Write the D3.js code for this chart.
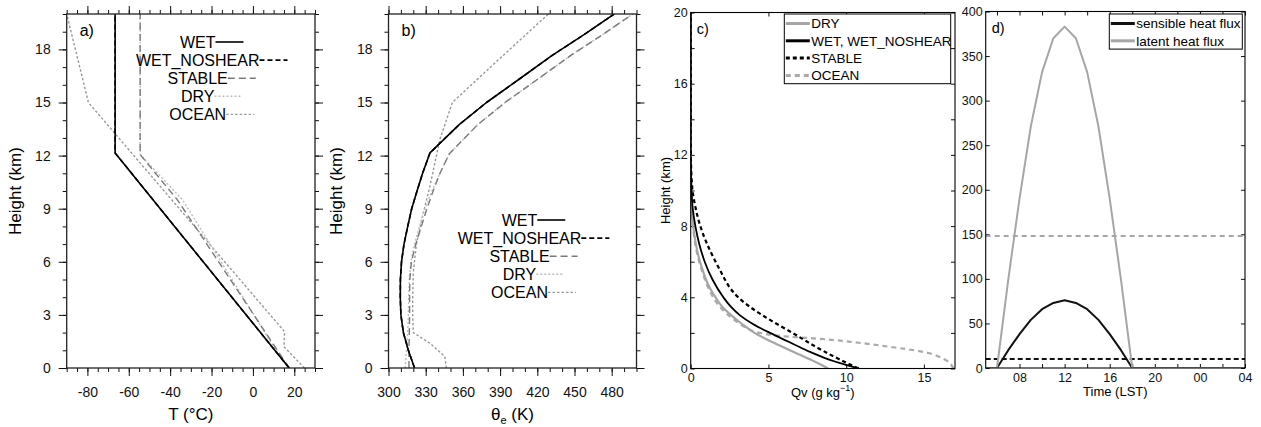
<!DOCTYPE html>
<html>
<head>
<meta charset="utf-8">
<script src="https://cdn.jsdelivr.net/npm/d3@7"></script>
<style>
	body { margin: 0; background: #fff; }
	svg { font-family: "Liberation Sans", Arial, Helvetica, sans-serif; }
</style>
</head>
<body>
<svg id="chart" width="1261" height="427"></svg>
<script>
// ---- values ----

// a) temperature profiles: [T (°C), height (km)]
var tempWet = [[17.5, 0], [-66.6, 12.15], [-66.6, 20]];
var tempWetNoshear = [[17.5, 0], [-66.6, 12.15], [-66.6, 20]];
var tempStable = [[17.5, 0], [-36.5, 9.5], [-54.5, 12.06], [-54.5, 20]];
var tempDry = [[17.5, 0], [9, 1.4], [-34, 9.5], [-54.5, 12.06], [-54.5, 20]];
var tempOcean = [[24.9, 0], [15, 1.2], [15.3, 2.05], [-79.5, 15], [-90, 20]];

// b) equivalent potential temperature: [theta_e (K), height (km)]
var thetaWet = [[321, 0], [316, 1], [312, 2], [310, 3], [309.5, 4], [309.6, 5], [310.5, 6], [312.5, 7], [315.5, 8], [318.7, 9], [323, 10], [327.5, 11], [333.4, 12.15], [357, 13.75], [379, 15], [405, 16.3], [432, 17.66], [458, 18.85], [482, 20]];
var thetaWetNoshear = [[321, 0], [316, 1], [312, 2], [310, 3], [309.5, 4], [309.6, 5], [310.5, 6], [312.5, 7], [315.5, 8], [318.7, 9], [323, 10], [327.5, 11], [333.4, 12.15], [357, 13.75], [379, 15], [405, 16.3], [432, 17.66], [458, 18.85], [482, 20]];
var thetaStable = [[316.5, 0], [316.5, 1], [316.8, 2], [317, 3], [317, 4], [317.2, 5], [318.5, 6], [322, 7], [326.5, 8], [331, 9], [336, 10], [341.5, 11], [349, 12.1], [372, 13.75], [394, 15], [420, 16.3], [447, 17.66], [473, 18.85], [497, 20]];
var thetaDry = [[313.4, 0], [314.5, 1], [315.5, 2], [316, 3], [316.3, 4], [316.8, 5], [318, 6], [321, 7], [325, 8], [329.5, 9], [335, 10], [341.5, 11], [349, 12.1], [372, 13.75], [394, 15], [420, 16.3], [447, 17.66], [473, 18.85], [497, 20]];
var thetaOcean = [[346.7, 0], [345.4, 0.65], [333.4, 1.4], [320, 2], [319.5, 3], [319.5, 4], [320, 5.4], [322.5, 7], [328, 8.75], [333.4, 10.26], [341.4, 12.9], [351.5, 15], [390, 17.5], [429, 20]];

// c) water vapour mixing ratio: [Qv (g/kg), height (km)]
var qvDry = [[8.85, 0], [7.7, 0.5], [6.45, 1], [5.2, 1.5], [4.1, 2], [3.3, 2.5], [2.6, 3], [2.0, 3.5], [1.6, 4], [1.25, 4.5], [0.98, 5], [0.78, 5.5], [0.6, 6], [0.33, 7], [0.16, 8], [0.07, 9], [0.03, 10], [0.01, 11], [0, 12], [0, 20]];
var qvWet = [[10.8, 0], [8.9, 0.5], [7.5, 1], [6.3, 1.5], [5.1, 2], [4.0, 2.5], [3.15, 3], [2.55, 3.5], [2.1, 4], [1.4, 5], [0.9, 6], [0.55, 7], [0.3, 8], [0.13, 9], [0.05, 10], [0.02, 11], [0, 12], [0, 20]];
var qvStable = [[10.8, 0], [9.6, 0.5], [8.5, 1], [7.5, 1.5], [6.55, 2], [5.55, 2.5], [4.6, 3], [3.75, 3.5], [3.05, 4], [2.55, 4.5], [2.2, 5], [1.9, 5.5], [1.6, 6], [1.05, 7], [0.62, 8], [0.32, 9], [0.12, 10], [0.04, 11], [0.01, 12], [0, 13], [0, 20]];
var qvOcean = [[16.9, 0], [16.37, 0.49], [14.86, 0.95], [12.7, 1.23], [10.57, 1.47], [8.42, 1.66], [6.27, 1.79], [4.55, 1.98], [3.55, 2.3], [2.85, 2.7], [1.85, 3.5], [1.15, 4.5], [0.72, 5.5], [0.33, 6.8], [0.14, 8.1], [0.05, 9.5], [0, 12], [0, 20]];

// d) surface fluxes (W m-2) against local hour (5 .. 28 = 04 next day)
var fluxHours = [5, 6, 7, 8, 9, 10, 11, 12, 13, 14, 15, 16, 17, 18, 19, 20, 21, 22, 23, 24, 25, 26, 27, 28];
var sensibleFlux = [0, 0, 20, 38, 54, 66, 73, 76, 73, 66, 54, 38, 20, 0, 0, 0, 0, 0, 0, 0, 0, 0, 0, 0];
var latentFlux = [0, 0, 99, 190, 271, 332, 370, 383, 370, 332, 271, 190, 99, 0, 0, 0, 0, 0, 0, 0, 0, 0, 0, 0];
var oceanSensibleFlux = 10;
var oceanLatentFlux = 148;

// ticks and labels
var heightMajor = [0, 3, 6, 9, 12, 15, 18];
var heightMinor = d3.range(0, 21, 1);
var tempMajor = [-80, -60, -40, -20, 0, 20];
var tempMinor = d3.range(-90, 31, 5);
var thetaMajor = [300, 330, 360, 390, 420, 450, 480];
var thetaMinor = d3.range(300, 501, 10);
var qvTicks = [0, 5, 10, 15];
var qvHeightTicks = d3.range(0, 21, 2);
var fluxTicks = [0, 50, 100, 150, 200, 250, 300, 350, 400];
var hourTicks = d3.range(6, 29, 2);
var hourLabelTicks = [8, 12, 16, 20, 24, 28];
var hourLabels = ["08", "12", "16", "20", "00", "04"];

var legendCasesNcl = ["WET", "WET_NOSHEAR", "STABLE", "DRY", "OCEAN"];
var legendCasesQv = ["DRY", "WET, WET_NOSHEAR", "STABLE", "OCEAN"];
var legendFlux = ["sensible heat flux", "latent heat flux"];

(function () {
	"use strict";

	var svg = d3.select("#chart");

	var caseStyle = {
		"WET": { stroke: "#000", width: 1.6, dash: null },
		"WET_NOSHEAR": { stroke: "#000", width: 1.6, dash: "5,3" },
		"STABLE": { stroke: "#7a7a7a", width: 1.4, dash: "7,4" },
		"DRY": { stroke: "#bdbdbd", width: 1.4, dash: "2,2" },
		"OCEAN": { stroke: "#999", width: 1.4, dash: "2.5,2" }
	};

	var qvStyle = {
		"DRY": { stroke: "#a6a6a6", width: 2.2, dash: null },
		"WET, WET_NOSHEAR": { stroke: "#000", width: 1.8, dash: null },
		"STABLE": { stroke: "#000", width: 2.2, dash: "4,3" },
		"OCEAN": { stroke: "#aaa", width: 2.2, dash: "5,4" }
	};

	var fluxStyle = {
		"sensible heat flux": { stroke: "#111", width: 2, dash: null },
		"latent heat flux": { stroke: "#a6a6a6", width: 2, dash: null }
	};

	function addAxis(g, axis, tx, ty, fontSize) {
		var a = g.append("g")
			.attr("transform", "translate(" + tx + "," + ty + ")")
			.call(axis);
		a.attr("font-family", null).attr("font-size", fontSize || 12);
		a.select(".domain").remove();
		a.selectAll("line").attr("stroke", "#111").attr("stroke-width", 1);
		a.selectAll("text").attr("fill", "#111");
		return a;
	}

	function applyStyle(sel, st) {
		sel.attr("fill", "none")
			.attr("stroke", st.stroke)
			.attr("stroke-width", st.width)
			.attr("stroke-dasharray", st.dash)
			.attr("stroke-linejoin", "round");
	}

	function clipFor(g, id, b) {
		g.append("clipPath").attr("id", id).append("rect")
			.attr("x", b.left).attr("y", b.top)
			.attr("width", b.right - b.left).attr("height", b.bottom - b.top);
		return "url(#" + id + ")";
	}

	function profileLine(x, y, curve) {
		return d3.line()
			.curve(curve || d3.curveLinear)
			.x(function (d) { return x(d[0]); })
			.y(function (d) { return y(d[1]); });
	}

	// NCL style panels (a, b): outward ticks on every side
	function nclPanel(o) {
		var b = o.box;
		var x = d3.scaleLinear().domain(o.xDomain).range([b.left, b.right]);
		var y = d3.scaleLinear().domain([0, 20]).range([b.bottom, b.top]);
		var g = svg.append("g").classed("panel-" + o.tag, true);
		var clip = clipFor(g, "clip-" + o.tag, b);

		var label = function (d) { return String(d); };

		addAxis(g, d3.axisBottom(x).tickValues(o.xMinor).tickSize(4).tickFormat(""), 0, b.bottom);
		addAxis(g, d3.axisTop(x).tickValues(o.xMinor).tickSize(4).tickFormat(""), 0, b.top);
		addAxis(g, d3.axisLeft(y).tickValues(heightMinor).tickSize(4).tickFormat(""), b.left, 0);
		addAxis(g, d3.axisRight(y).tickValues(heightMinor).tickSize(4).tickFormat(""), b.right, 0);

		addAxis(g, d3.axisBottom(x).tickValues(o.xMajor).tickSize(8).tickPadding(11).tickFormat(label), 0, b.bottom, 14);
		addAxis(g, d3.axisTop(x).tickValues(o.xMajor).tickSize(8).tickFormat(""), 0, b.top);
		addAxis(g, d3.axisLeft(y).tickValues(heightMajor).tickSize(8).tickPadding(8).tickFormat(label), b.left, 0, 14);
		addAxis(g, d3.axisRight(y).tickValues(heightMajor).tickSize(8).tickFormat(""), b.right, 0);

		var line = profileLine(x, y);
		g.append("g").attr("clip-path", clip)
			.selectAll("path")
			.data(o.series)
			.enter()
			.append("path")
			.attr("d", function (s) { return line(s.values); })
			.each(function (s) { applyStyle(d3.select(this), caseStyle[s.name]); });

		g.append("rect")
			.attr("x", b.left).attr("y", b.top)
			.attr("width", b.right - b.left).attr("height", b.bottom - b.top)
			.attr("fill", "none").attr("stroke", "#222").attr("stroke-width", 1.3);

		g.append("text")
			.attr("x", b.left + 13).attr("y", b.top + 22)
			.attr("font-size", 16)
			.text(o.tag + ")");

		g.append("text")
			.attr("transform", "translate(" + (b.left - 52) + "," + ((b.top + b.bottom) / 2) + ") rotate(-90)")
			.attr("text-anchor", "middle")
			.attr("dy", "0.35em")
			.attr("font-size", 17)
			.text("Height (km)");

		o.xTitle(g.append("text")
			.attr("x", (b.left + b.right) / 2)
			.attr("y", 420)
			.attr("text-anchor", "middle")
			.attr("font-size", 17));

		// legend: centred names, each followed by a short line sample
		var rows = g.selectAll(".legend-row")
			.data(legendCasesNcl)
			.enter()
			.append("g")
			.classed("legend-row", true)
			.attr("transform", function (d, i) {
				return "translate(" + (b.left + 131) + "," + (o.legendTop + i * 18.1) + ")";
			});

		rows.append("text")
			.attr("text-anchor", "middle")
			.attr("dy", "0.36em")
			.attr("font-size", 16)
			.text(function (d) { return d; });

		rows.each(function (d) {
			var row = d3.select(this);
			var w = row.select("text").node().getComputedTextLength();
			row.append("line")
				.attr("x1", w / 2).attr("x2", w / 2 + 28)
				.attr("y1", 0).attr("y2", 0)
				.call(applyStyle, caseStyle[d]);
		});
	}

	// MATLAB style panels (c, d): inward ticks on every side
	function matlabPanel(o) {
		var b = o.box;
		var g = svg.append("g").classed("panel-" + o.tag, true);
		var clip = clipFor(g, "clip-" + o.tag, b);
		var x = o.x, y = o.y;

		addAxis(g, d3.axisBottom(x).tickValues(o.xTicks).tickSize(-4).tickPadding(5).tickFormat(o.xFormat), 0, b.bottom, 12.5);
		addAxis(g, d3.axisTop(x).tickValues(o.xTicks).tickSize(-4).tickFormat(""), 0, b.top);
		addAxis(g, d3.axisLeft(y).tickValues(o.yTicks).tickSize(-4).tickPadding(3).tickFormat(o.yFormat), b.left, 0, 12.5);
		addAxis(g, d3.axisRight(y).tickValues(o.yTicks).tickSize(-4).tickFormat(""), b.right, 0);

		g.append("g").attr("clip-path", clip)
			.selectAll("path")
			.data(o.series)
			.enter()
			.append("path")
			.attr("d", function (s) { return s.path; })
			.each(function (s) { applyStyle(d3.select(this), s.style); });

		g.append("rect")
			.attr("x", b.left).attr("y", b.top)
			.attr("width", b.right - b.left).attr("height", b.bottom - b.top)
			.attr("fill", "none").attr("stroke", "#000").attr("stroke-width", 1.1);

		g.append("text")
			.attr("x", b.left + 6).attr("y", b.top + 21)
			.attr("font-size", 14.5)
			.text(o.tag + ")");

		var lg = o.legend;
		g.append("rect")
			.attr("x", lg.left).attr("y", lg.top)
			.attr("width", lg.width).attr("height", lg.names.length * 17.3 + 0.5)
			.attr("fill", "#fff").attr("stroke", "#000").attr("stroke-width", 1);

		var rows = g.selectAll(".legend-row")
			.data(lg.names)
			.enter()
			.append("g")
			.classed("legend-row", true)
			.attr("transform", function (d, i) {
				return "translate(" + (lg.left + 1.5) + "," + (lg.top + 9.5 + i * 17.3) + ")";
			});

		rows.append("line")
			.attr("x1", 0).attr("x2", 24)
			.attr("y1", 0).attr("y2", 0)
			.each(function (d) {
				applyStyle(d3.select(this), lg.styles[d]);
				d3.select(this).attr("stroke-width", 3);
			});

		rows.append("text")
			.attr("x", 25.5)
			.attr("dy", "0.36em")
			.attr("font-size", 13.5)
			.text(function (d) { return d; });

		return g;
	}

	// ---- panel a ----
	nclPanel({
		tag: "a",
		box: { left: 66.7, right: 315, top: 14, bottom: 368 },
		xDomain: [-90, 30],
		xMajor: tempMajor,
		xMinor: tempMinor,
		legendTop: 42,
		series: [
			{ name: "OCEAN", values: tempOcean },
			{ name: "DRY", values: tempDry },
			{ name: "STABLE", values: tempStable },
			{ name: "WET", values: tempWet },
			{ name: "WET_NOSHEAR", values: tempWetNoshear }
		],
		xTitle: function (t) { t.text("T (\u00B0C)"); }
	});

	// ---- panel b ----
	nclPanel({
		tag: "b",
		box: { left: 388.5, right: 636.5, top: 14, bottom: 368 },
		xDomain: [300, 500],
		xMajor: thetaMajor,
		xMinor: thetaMinor,
		legendTop: 220,
		series: [
			{ name: "OCEAN", values: thetaOcean },
			{ name: "DRY", values: thetaDry },
			{ name: "STABLE", values: thetaStable },
			{ name: "WET", values: thetaWet },
			{ name: "WET_NOSHEAR", values: thetaWetNoshear }
		],
		xTitle: function (t) {
			t.append("tspan").text("\u03B8");
			t.append("tspan").attr("font-size", 11).attr("dy", 4).text("e");
			t.append("tspan").attr("dy", -4).text(" (K)");
		}
	});

	// ---- panel c ----
	var boxC = { left: 690.7, right: 955, top: 12.5, bottom: 368.5 };
	var xC = d3.scaleLinear().domain([0, 17]).range([boxC.left, boxC.right]);
	var yC = d3.scaleLinear().domain([0, 20]).range([boxC.bottom, boxC.top]);
	var lineC = profileLine(xC, yC, d3.curveMonotoneY);

	var gC = matlabPanel({
		tag: "c",
		box: boxC,
		x: xC,
		y: yC,
		xTicks: qvTicks,
		xFormat: function (d) { return String(d); },
		yTicks: qvHeightTicks,
		yFormat: function (d) { return d % 4 === 0 ? String(d) : ""; },
		series: [
			{ path: lineC(qvOcean), style: qvStyle["OCEAN"] },
			{ path: lineC(qvDry), style: qvStyle["DRY"] },
			{ path: lineC(qvWet), style: qvStyle["WET, WET_NOSHEAR"] },
			{ path: lineC(qvStable), style: qvStyle["STABLE"] }
		],
		legend: { left: 784.3, top: 14, width: 166.4, names: legendCasesQv, styles: qvStyle }
	});

	var qvTitle = gC.append("text")
		.attr("x", (boxC.left + boxC.right) / 2)
		.attr("y", 397)
		.attr("text-anchor", "middle")
		.attr("font-size", 13);
	qvTitle.append("tspan").text("Qv (g kg");
	qvTitle.append("tspan").attr("font-size", 9).attr("dy", -6).text("\u22121");
	qvTitle.append("tspan").attr("dy", 6).text(")");

	gC.append("text")
		.attr("transform", "translate(" + 665 + "," + ((boxC.top + boxC.bottom) / 2) + ") rotate(-90)")
		.attr("text-anchor", "middle")
		.attr("dy", "0.35em")
		.attr("font-size", 13)
		.text("Height (km)");

	// ---- panel d ----
	var boxD = { left: 985.7, right: 1245, top: 11.5, bottom: 368 };
	var xD = d3.scaleLinear().domain([5, 28]).range([boxD.left, boxD.right]);
	var yD = d3.scaleLinear().domain([0, 400]).range([boxD.bottom, boxD.top]);
	var fluxLine = function (values) {
		return d3.line()
			.x(function (d, i) { return xD(fluxHours[i]); })
			.y(function (d) { return yD(d); })(values);
	};
	var levelLine = function (v) {
		return d3.line()
			.x(function (d) { return xD(d); })
			.y(function () { return yD(v); })(xD.domain());
	};

	var gD = matlabPanel({
		tag: "d",
		box: boxD,
		x: xD,
		y: yD,
		xTicks: hourTicks,
		xFormat: function (d) {
			var k = hourLabelTicks.indexOf(d);
			return k < 0 ? "" : hourLabels[k];
		},
		yTicks: fluxTicks,
		yFormat: function (d) { return String(d); },
		series: [
			{ path: levelLine(oceanLatentFlux), style: { stroke: "#a6a6a6", width: 2, dash: "5,4" } },
			{ path: levelLine(oceanSensibleFlux), style: { stroke: "#111", width: 2, dash: "5,3" } },
			{ path: fluxLine(sensibleFlux), style: fluxStyle["sensible heat flux"] },
			{ path: fluxLine(latentFlux), style: fluxStyle["latent heat flux"] }
		],
		legend: { left: 1109.3, top: 14, width: 133, names: legendFlux, styles: fluxStyle }
	});

	gD.append("text")
		.attr("x", (boxD.left + boxD.right) / 2)
		.attr("y", 396)
		.attr("text-anchor", "middle")
		.attr("font-size", 13)
		.text("Time (LST)");
}());
</script>
</body>
</html>
